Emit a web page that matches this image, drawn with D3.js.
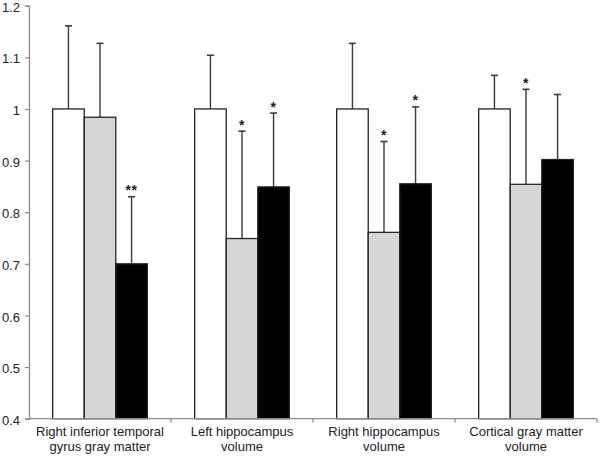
<!DOCTYPE html>
<html>
<head>
<meta charset="utf-8">
<script src="https://cdn.jsdelivr.net/npm/d3@7"></script>
<style>
  html, body { margin: 0; padding: 0; background: #fff; }
  svg { display: block; }
</style>
</head>
<body>
<svg id="chart" width="600" height="456"></svg>
<script>
const categories = [
  ["Right inferior temporal", "gyrus gray matter"],
  ["Left hippocampus", "volume"],
  ["Right hippocampus", "volume"],
  ["Cortical gray matter", "volume"]
];
const seriesNames = ["Group A", "Group B", "Group C"];
const seriesA = [1.0, 1.0, 1.0, 1.0];
const seriesB = [0.984, 0.749, 0.761, 0.854];
const seriesC = [0.70, 0.849, 0.855, 0.902];
const errA = [0.161, 0.104, 0.127, 0.065];
const errB = [0.143, 0.208, 0.176, 0.184];
const errC = [0.130, 0.143, 0.149, 0.126];
const sigA = ["", "", "", ""];
const sigB = ["", "*", "*", "*"];
const sigC = ["**", "*", "*", ""];
const yTicks = [0.4, 0.5, 0.6, 0.7, 0.8, 0.9, 1, 1.1, 1.2];
const fills = ["#ffffff", "#d6d6d6", "#000000"];

const values = [seriesA, seriesB, seriesC];
const errs = [errA, errB, errC];
const sigs = [sigA, sigB, sigC];

const W = 600, H = 456;
const margin = { top: 5.7, right: 3, bottom: 37.3, left: 29 };
const svg = d3.select("#chart");
const g = svg.append("g").attr("transform", `translate(${margin.left},${margin.top})`);
const iw = W - margin.left - margin.right;
const ih = H - margin.top - margin.bottom;

const x0 = d3.scaleBand().domain(d3.range(categories.length)).range([0, iw]).padding(0);
const x1 = d3.scaleBand().domain(d3.range(seriesNames.length)).range([0, x0.bandwidth()])
  .paddingInner(0).paddingOuter(0.75);
const y = d3.scaleLinear().domain([0.4, 1.2]).range([ih, 0]);

const data = [];
categories.forEach((c, i) => {
  seriesNames.forEach((s, j) => {
    data.push({ i, j, v: values[j][i], e: errs[j][i], sig: sigs[j][i] });
  });
});

// error bars (behind bars)
const eb = g.append("g");
data.forEach(d => {
  const cx = x0(d.i) + x1(d.j) + x1.bandwidth() / 2;
  const top = y(d.v + d.e);
  eb.append("line").attr("x1", cx).attr("x2", cx).attr("y1", y(d.v)).attr("y2", top)
    .attr("stroke", "#3a3a3a").attr("stroke-width", 1.4);
  eb.append("line").attr("x1", cx - 3.5).attr("x2", cx + 3.5).attr("y1", top).attr("y2", top)
    .attr("stroke", "#3a3a3a").attr("stroke-width", 1.6);
  if (d.sig) {
    eb.append("text").attr("x", cx).attr("y", top - 1.5)
      .attr("text-anchor", "middle")
      .attr("font-family", "Liberation Sans, Arial, sans-serif")
      .attr("font-size", 14).attr("font-weight", "bold").attr("fill", "#222")
      .attr("letter-spacing", 0.5)
      .text(d.sig);
  }
});

// bars
g.append("g").selectAll("rect").data(data).join("rect")
  .attr("x", d => x0(d.i) + x1(d.j))
  .attr("y", d => y(d.v))
  .attr("width", x1.bandwidth())
  .attr("height", d => y(0.4) - y(d.v))
  .attr("fill", d => fills[d.j])
  .attr("stroke", "#222")
  .attr("stroke-width", 1.3);

// y axis
const yAxis = g.append("g")
  .call(d3.axisLeft(y).tickValues(yTicks).tickSize(4).tickPadding(5).tickFormat(d3.format("")));
yAxis.select(".domain").attr("stroke", "#8a8a8a").attr("stroke-width", 1.3);
yAxis.selectAll(".tick line").attr("stroke", "#8a8a8a").attr("stroke-width", 1.2);
yAxis.selectAll(".tick text")
  .attr("font-family", "Liberation Sans, Arial, sans-serif")
  .attr("font-size", 13).attr("fill", "#222")
  .attr("y", 1.5);

// x axis
const xAxisG = g.append("g").attr("transform", `translate(0,${ih})`);
xAxisG.append("line").attr("x1", 0).attr("x2", iw).attr("y1", 0).attr("y2", 0)
  .attr("stroke", "#8a8a8a").attr("stroke-width", 1.3);
xAxisG.selectAll("line.tk").data(d3.range(1, categories.length + 1)).join("line")
  .attr("class", "tk")
  .attr("x1", d => d * x0.step()).attr("x2", d => d * x0.step())
  .attr("y1", 0).attr("y2", 4)
  .attr("stroke", "#8a8a8a").attr("stroke-width", 1.2);

const labels = xAxisG.selectAll("text.cat").data(categories).join("text")
  .attr("class", "cat")
  .attr("text-anchor", "middle")
  .attr("font-family", "Liberation Sans, Arial, sans-serif")
  .attr("font-size", 13).attr("fill", "#222")
  .attr("transform", (d, i) => `translate(${x0(i) + x0.bandwidth() / 2},0)`);
labels.each(function(d) {
  const t = d3.select(this);
  d.forEach((line, k) => {
    t.append("tspan").attr("x", 0).attr("y", 17.5 + k * 14.5).text(line);
  });
});
</script>
</body>
</html>
